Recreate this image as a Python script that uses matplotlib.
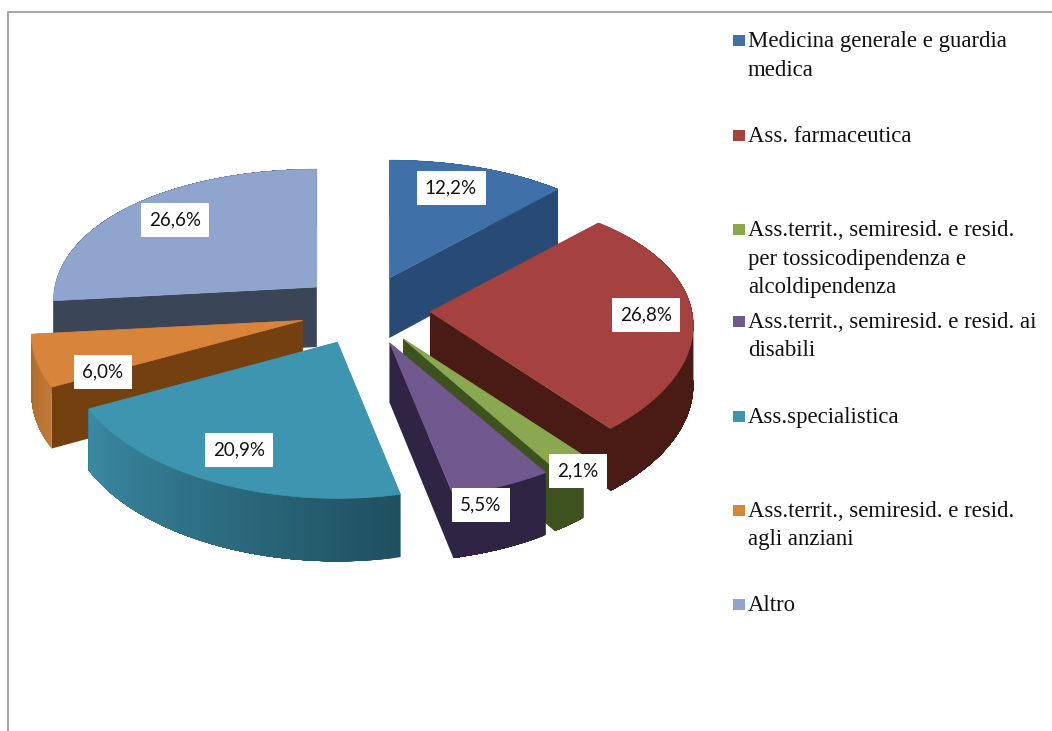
import matplotlib
matplotlib.use('Agg')
import matplotlib.pyplot as plt, numpy as np
from matplotlib.colors import to_rgb
from matplotlib.patches import Polygon, Rectangle

# values of the chart
categories = ['Medicina generale e guardia\nmedica', 'Ass. farmaceutica',
              'Ass.territ., semiresid. e resid.\nper tossicodipendenza e\nalcoldipendenza',
              'Ass.territ., semiresid. e resid. ai\ndisabili', 'Ass.specialistica',
              'Ass.territ., semiresid. e resid.\nagli anziani', 'Altro']
values = [12.2, 26.8, 2.1, 5.5, 20.9, 6.0, 26.6]
value_labels = ['12,2%', '26,8%', '2,1%', '5,5%', '20,9%', '6,0%', '26,6%']

# colours and layout
top_colors = ['#4070a8', '#a5423f', '#8aa84f', '#71588f', '#3e95b0', '#d9843b', '#8fa5cd']
side_colors = ['#274b75', '#4a1a14', '#3e5220', '#2f2444', '#1f5060', '#74400f', '#3a4558']
rim_start = ['#274b75', '#4a1a14', '#3e5220', '#2f2444', '#1f5060', '#c07a38', '#3a4558']
rim_end = ['#274b75', '#4a1a14', '#3e5220', '#2f2444', '#3a8aa4', '#b06a28', '#3a4558']
radius_scale = [1, 1, 1, 1.03, 1.02, 1.03, 1]
label_xy = [(451, 188), (646, 315), (578, 471), (481, 505), (239, 450), (103, 372), (175, 220)]
legend_y = [40, 135, 229, 321, 416, 510, 604]
draw_order = [0, 6, 1, 2, 3, 5, 4]

CX, CY = 365, 310.5
EXPLODE_X, EXPLODE_Y = 65, 35
RX, RY = 262, 137


def rim_point(apex, t, scale):
    # perspective: the front of the pie looks bigger than the back
    py = np.cos(t)
    return apex[0] + scale * RX * (1 - 0.10 * py) * np.sin(t), apex[1] - RY * (1 - 0.14 * py) * py


def wall_depth(t):
    return 60 - 3 * np.cos(t)


fig, ax = plt.subplots(figsize=(10.52, 7.31), dpi=100)
ax.set_position([0, 0, 1, 1])
ax.set_xlim(0, 1052)
ax.set_ylim(731, 0)
ax.axis('off')

# chart border
ax.plot([8, 8, 1052], [731, 12, 12], color='#a6a6a6', lw=1.5)

edges = np.radians(np.cumsum([0] + values) * 360 / sum(values))
for i in draw_order:
    t0, t1 = edges[i], edges[i + 1]
    tm = (t0 + t1) / 2
    apex = np.array([CX + EXPLODE_X * np.sin(tm), CY - EXPLODE_Y * np.cos(tm)])
    ts = np.linspace(t0, t1, 60)
    rim = np.array([rim_point(apex, t, radius_scale[i]) for t in ts])
    low = rim + np.array([[0, wall_depth(t)] for t in ts])
    apex_low = apex + [0, 60]

    # the two flat walls
    ax.add_patch(Polygon([apex, rim[0], low[0], apex_low], fc=side_colors[i], ec='none'))
    ax.add_patch(Polygon([apex, rim[-1], low[-1], apex_low], fc=side_colors[i], ec='none'))
    # outer wall, shaded along the rim; each piece overlaps the next so no seams show
    c0, c1 = np.array(to_rgb(rim_start[i])), np.array(to_rgb(rim_end[i]))
    for k in range(len(ts) - 1):
        c = c0 + (c1 - c0) * k / (len(ts) - 2)
        ax.add_patch(Polygon(np.vstack([rim[k:], low[k:][::-1]]), fc=c, ec='none'))
    # top of the slice
    ax.add_patch(Polygon(np.vstack([[apex], rim]), fc=top_colors[i], ec=top_colors[i], lw=0.5))

for lab, (x, y) in zip(value_labels, label_xy):
    ax.text(x, y, lab, ha='center', va='center', fontsize=13.5, family='Lato', color='#111111', zorder=5,
            bbox=dict(fc='white', ec='none', boxstyle='square,pad=0.45'))

# legend
for name, col, y in zip(categories, top_colors, legend_y):
    ax.add_patch(Rectangle((733, y - 5.5), 12, 11, fc=col, ec='none'))
    for n, line in enumerate(name.split('\n')):
        ax.text(748, y + 1.5 + n * 28.5, line, ha='left', va='center', fontsize=16.4, family='Liberation Serif', color='#111111')

fig.savefig('out.png', dpi=100)
plt.close(fig)
